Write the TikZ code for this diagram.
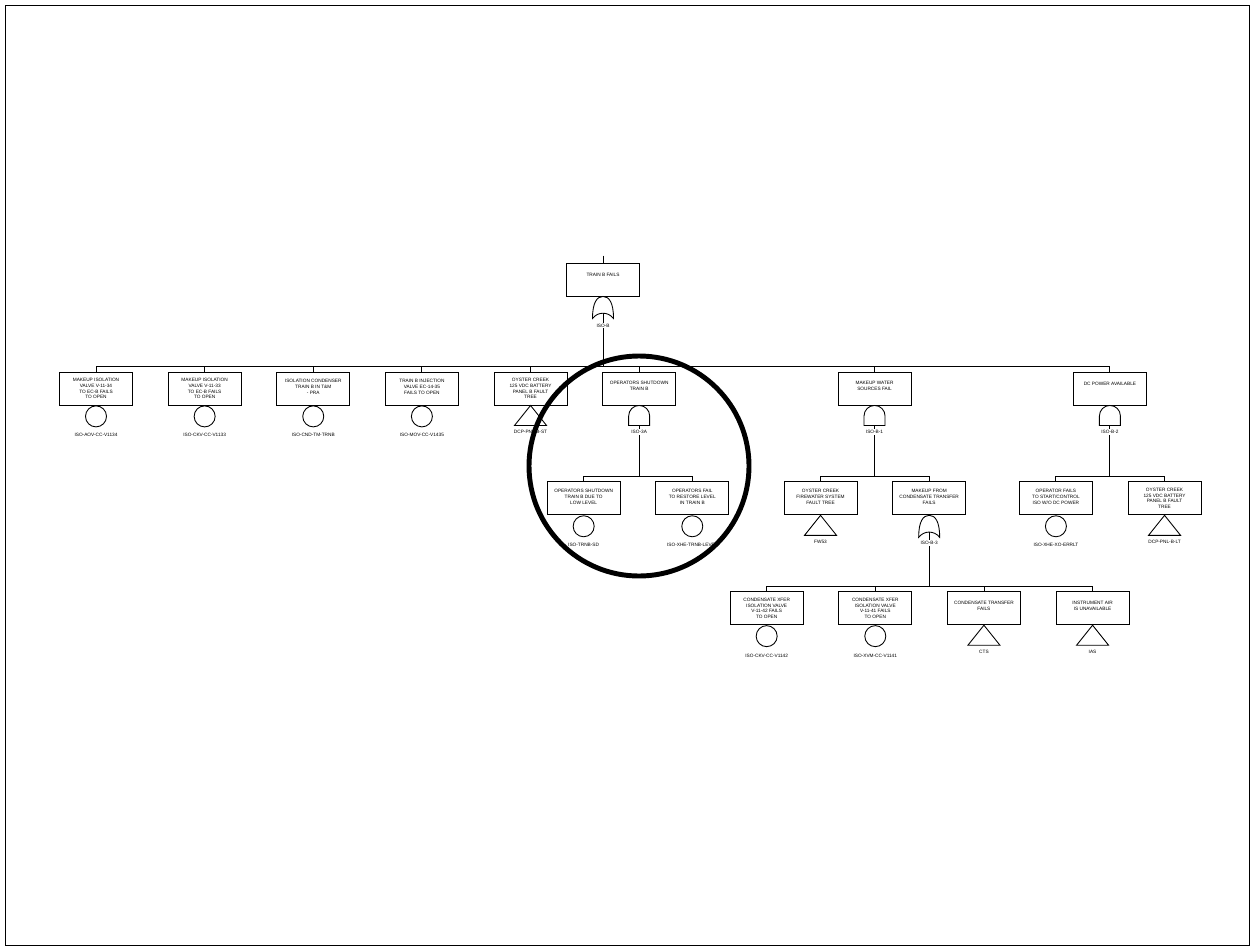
\documentclass[tikz,border=0pt]{standalone}
\usepackage{fontspec}
\setmainfont{Liberation Sans}
\usetikzlibrary{positioning}
\newcommand{\treefont}{\fontsize{2.7}{3.3}\selectfont}

\begin{document}
\begin{tikzpicture}[x=0.2mm, y=-0.2mm, line width=0.5pt,
      node distance=15.2mm and 6.95mm, every node/.style={font=\treefont},
      box/.style={draw, minimum width=14.6mm, minimum height=6.6mm, align=center, inner sep=0.5pt},
      pad/.style={text depth=#1},
      basic/.style={draw, circle, minimum size=4.2mm, inner sep=0pt},
      tag/.style={fill=white, inner sep=0.6pt},
      andgate/.pic={\draw (-10.5,20) -- (-10.5,10.5) arc[start angle=180, end angle=360, radius=10.5] -- (10.5,20) -- cycle;
                    \coordinate (-out) at (0,20);},
      orgate/.pic={\draw (-10.5,22) .. controls (-10.5,6) and (-6,0) .. (0,0) .. controls (6,0) and (10.5,6) .. (10.5,22)
                      .. controls (5,15) and (-5,15) .. (-10.5,22) -- cycle;
                   \coordinate (-out) at (0,16.8);},
      xfer/.pic={\draw (0,0) -- (16,20) -- (-16,20) -- cycle;}]
  \useasboundingbox (0,0) rectangle (1255,951);
  \draw (5,5) rectangle (1249,945);

  % top event
  \node[box, pad=5.7pt] (trainb) at (603,279.5) {TRAIN B FAILS};
  \coordinate[above=1.4mm of trainb] (topin);
  \pic (gb) at (trainb.south) {orgate};

  % first level
  \node[box] (mkv34) at (96,388.5) {MAKEUP ISOLATION\\VALVE V-11-34\\TO EC-B FAILS\\TO OPEN};
  \node[box, right=of mkv34] (mkv33) {MAKEUP ISOLATION\\VALVE V-11-33\\TO EC-B FAILS\\TO OPEN};
  \node[box, pad=2pt, right=of mkv33] (icond) {ISOLATION CONDENSER\\TRAIN B IN T\&M\\- PRA};
  \node[box, pad=2pt, right=of icond] (injv) {TRAIN B INJECTION\\VALVE EC-14-35\\FAILS TO OPEN};
  \node[box, right=of injv] (batt) {OYSTER CREEK\\125 VDC BATTERY\\PANEL B FAULT\\TREE};
  \node[box, pad=2.6pt, right=of batt] (opsd) {OPERATORS SHUTDOWN\\TRAIN B};
  \node[box, pad=2.6pt, right=32.3mm of opsd] (mkw) {MAKEUP WATER\\SOURCES FAIL};
  \node[box, pad=5.7pt, right=32.3mm of mkw] (dcpw) {DC POWER AVAILABLE};

  \node[basic, below=0pt of mkv34] (e1134) {};
  \node[basic, below=0pt of mkv33] (e1133) {};
  \node[basic, below=0pt of icond] (etrnb) {};
  \node[basic, below=0pt of injv] (e1435) {};
  \pic at (batt.south) {xfer};
  \pic (g3a) at (opsd.south) {andgate};
  \pic (gb1) at (mkw.south) {andgate};
  \pic (gb2) at (dcpw.south) {andgate};

  % second level
  \node[box, pad=2pt, below=of opsd, xshift=-11.1mm] (opsdl) {OPERATORS SHUTDOWN\\TRAIN B DUE TO\\LOW LEVEL};
  \node[box, pad=2pt, right=of opsdl] (oprest) {OPERATORS FAIL\\TO RESTORE LEVEL\\IN TRAIN B};
  \node[box, pad=2pt, below=of mkw, xshift=-10.8mm] (fw) {OYSTER CREEK\\FIREWATER SYSTEM\\FAULT TREE};
  \node[box, pad=2pt, right=of fw] (mkcond) {MAKEUP FROM\\CONDENSATE TRANSFER\\FAILS};
  \node[box, pad=2pt, below=of dcpw, xshift=-10.8mm] (opdc) {OPERATOR FAILS\\TO START/CONTROL\\ISO W/O DC POWER};
  \node[box, right=of opdc] (battlt) {OYSTER CREEK\\125 VDC BATTERY\\PANEL B FAULT\\TREE};

  \node[basic, below=0pt of opsdl] (esd) {};
  \node[basic, below=0pt of oprest] (elev) {};
  \pic at (fw.south) {xfer};
  \pic (gb3) at (mkcond.south) {orgate};
  \node[basic, below=0pt of opdc] (eerr) {};
  \pic at (battlt.south) {xfer};

  % third level
  \node[box, below=of mkcond, xshift=-32.5mm] (cxv42) {CONDENSATE XFER\\ISOLATION VALVE\\V-11-42 FAILS\\TO OPEN};
  \node[box, right=of cxv42] (cxv41) {CONDENSATE XFER\\ISOLATION VALVE\\V-11-41 FAILS\\TO OPEN};
  \node[box, pad=2.6pt, right=of cxv41] (ctf) {CONDENSATE TRANSFER\\FAILS};
  \node[box, pad=2.6pt, right=of ctf] (ias) {INSTRUMENT AIR\\IS UNAVAILABLE};

  \node[basic, below=0pt of cxv42] (e1142) {};
  \node[basic, below=0pt of cxv41] (e1141) {};
  \pic at (ctf.south) {xfer};
  \pic at (ias.south) {xfer};

  % gate outputs and buses
  \coordinate[above=1mm of mkv34] (bus1);
  \coordinate[above=1mm of opsdl] (bus3a);
  \coordinate[above=1mm of fw] (busb1);
  \coordinate[above=1mm of opdc] (busb2);
  \coordinate[above=1mm of cxv42] (busb3);

  \draw (topin) -- (trainb);
  \draw (gb-out) |- (bus1) -- (mkv34);
  \draw (bus1) -| (mkv33) (bus1) -| (icond) (bus1) -| (injv) (bus1) -| (batt)
        (bus1) -| (opsd) (bus1) -| (mkw) (bus1) -| (dcpw);
  \draw (g3a-out) |- (bus3a) -- (opsdl) (bus3a) -| (oprest);
  \draw (gb1-out) |- (busb1) -- (fw) (busb1) -| (mkcond);
  \draw (gb2-out) |- (busb2) -- (opdc) (busb2) -| (battlt);
  \draw (gb3-out) |- (busb3) -- (cxv42) (busb3) -| (cxv41) (busb3) -| (ctf) (busb3) -| (ias);

  % event and gate names
  \node[tag] (lb) at ([yshift=-5.8mm]trainb.south) {ISO-B};
  \node[tag] (l1134) at ([yshift=-5.9mm]mkv34.south) {ISO-AOV-CC-V1134};
  \node[tag] (l1133) at ([yshift=-5.9mm]mkv33.south) {ISO-CKV-CC-V1133};
  \node[tag] (ltrnb) at ([yshift=-5.9mm]icond.south) {ISO-CND-TM-TRNB};
  \node[tag] (l1435) at ([yshift=-5.9mm]injv.south) {ISO-MOV-CC-V1435};
  \node[tag] (lbst) at ([yshift=-5.3mm]batt.south) {DCP-PNL-B-ST};
  \node[tag] (l3a) at ([yshift=-5.3mm]opsd.south) {ISO-3A};
  \node[tag] (lb1) at ([yshift=-5.3mm]mkw.south) {ISO-B-1};
  \node[tag] (lb2) at ([yshift=-5.3mm]dcpw.south) {ISO-B-2};
  \node[tag] (lsd) at ([yshift=-5.9mm]opsdl.south) {ISO-TRNB-SD};
  \node[tag] (llev) at ([yshift=-5.9mm]oprest.south) {ISO-XHE-TRNB-LEVEL};
  \node[tag] (lfw) at ([yshift=-5.3mm]fw.south) {FW53};
  \node[tag] (lb3) at ([yshift=-5.5mm]mkcond.south) {ISO-B-3};
  \node[tag] (lerr) at ([yshift=-5.9mm]opdc.south) {ISO-XHE-XO-ERRLT};
  \node[tag] (lblt) at ([yshift=-5.3mm]battlt.south) {DCP-PNL-B-LT};
  \node[tag] (l1142) at ([yshift=-6.2mm]cxv42.south) {ISO-CKV-CC-V1142};
  \node[tag] (l1141) at ([yshift=-6.2mm]cxv41.south) {ISO-XVM-CC-V1141};
  \node[tag] (lcts) at ([yshift=-5.3mm]ctf.south) {CTS};
  \node[tag] (lias) at ([yshift=-5.3mm]ias.south) {IAS};

  % highlight ring
  \node[draw, circle, line width=2.8pt, minimum size=44mm] (focus) at (639,466) {};
\end{tikzpicture}
\end{document}
